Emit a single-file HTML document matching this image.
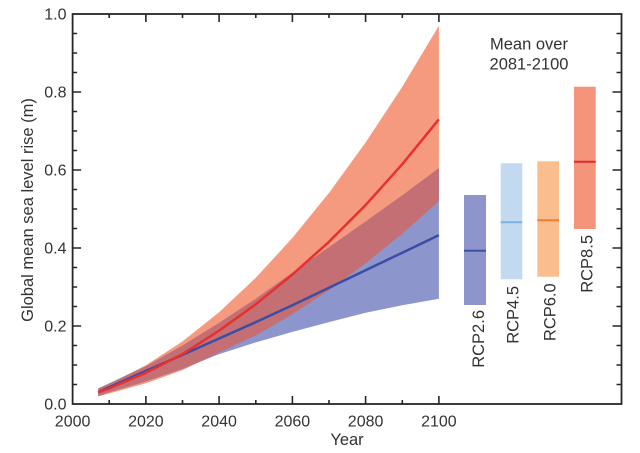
<!DOCTYPE html>
<html>
<head>
<meta charset="utf-8">
<style>
  html,body{margin:0;padding:0;background:#fff;}
  svg{display:block;}
  text{font-family:"Liberation Sans", Arial, sans-serif; fill:#333;}
</style>
</head>
<body>
<svg width="640" height="453" viewBox="0 0 640 453" xmlns="http://www.w3.org/2000/svg">
  <defs>
    <clipPath id="c8">
      <polygon points="98.2,388.4 109.2,383.9 145.9,365.3 182.5,341.4 219.1,312.3 255.8,277.8 292.4,237.9 329.0,192.9 365.6,142.5 402.3,86.7 438.9,25.7 438.9,201.2 402.3,233.6 365.6,263.2 329.0,290.1 292.4,314.3 255.8,335.4 219.1,352.5 182.5,370.1 145.9,383.3 109.2,393.5 98.2,396.2"/>
    </clipPath>
  </defs>

  <!-- RCP8.5 band -->
  <polygon fill="#f59a7e" points="98.2,388.4 109.2,383.9 145.9,365.3 182.5,341.4 219.1,312.3 255.8,277.8 292.4,237.9 329.0,192.9 365.6,142.5 402.3,86.7 438.9,25.7 438.9,201.2 402.3,233.6 365.6,263.2 329.0,290.1 292.4,314.3 255.8,335.4 219.1,352.5 182.5,370.1 145.9,383.3 109.2,393.5 98.2,396.2"/>
  <!-- RCP2.6 band -->
  <polygon fill="#8d95cd" points="98.2,388.4 109.2,383.3 145.9,366.2 182.5,345.5 219.1,322.9 255.8,298.7 292.4,272.6 329.0,247.2 365.6,221.5 402.3,195.4 438.9,168.1 438.9,298.7 402.3,305.3 365.6,312.7 329.0,322.1 292.4,331.9 255.8,342.4 219.1,354.1 182.5,368.9 145.9,381.4 109.2,392.3 98.2,396.2"/>
  <!-- overlap -->
  <polygon fill="#c46f74" clip-path="url(#c8)" points="98.2,388.4 109.2,383.3 145.9,366.2 182.5,345.5 219.1,322.9 255.8,298.7 292.4,272.6 329.0,247.2 365.6,221.5 402.3,195.4 438.9,168.1 438.9,298.7 402.3,305.3 365.6,312.7 329.0,322.1 292.4,331.9 255.8,342.4 219.1,354.1 182.5,368.9 145.9,381.4 109.2,392.3 98.2,396.2"/>

  <!-- mean lines -->
  <polyline fill="none" stroke="#3a4ea6" stroke-width="2.5" stroke-linejoin="round" points="98.2,392.3 109.2,387.2 145.9,370.9 182.5,354.9 219.1,338.5 255.8,322.1 292.4,305.3 329.0,287.8 365.6,270.2 402.3,252.7 438.9,235.1"/>
  <polyline fill="none" stroke="#e8302e" stroke-width="2.5" stroke-linejoin="round" points="98.2,392.3 109.2,388.4 145.9,372.8 182.5,354.1 219.1,330.7 255.8,304.2 292.4,274.5 329.0,241.8 365.6,205.1 402.3,164.2 438.9,119.3"/>

  <!-- bars -->
  <rect x="464" y="195" width="22" height="110" fill="#8e95cc"/>
  <line x1="464" y1="250.7" x2="486" y2="250.7" stroke="#3d52a4" stroke-width="2"/>
  <rect x="500.7" y="163.3" width="21.6" height="116" fill="#c3d9f0"/>
  <line x1="500.7" y1="222.3" x2="522.3" y2="222.3" stroke="#7db3e3" stroke-width="2"/>
  <rect x="537.3" y="161.3" width="21.7" height="115.4" fill="#f9bd8e"/>
  <line x1="537.3" y1="220.3" x2="559" y2="220.3" stroke="#f07c2e" stroke-width="2"/>
  <rect x="574" y="86.7" width="21.7" height="142.3" fill="#f4957b"/>
  <line x1="574" y1="161.7" x2="595.7" y2="161.7" stroke="#e8282c" stroke-width="2"/>

  <!-- bar labels -->
  <text font-size="16.5" text-anchor="end" transform="translate(484,310) rotate(-90)">RCP2.6</text>
  <text font-size="16.5" text-anchor="end" transform="translate(518.3,286) rotate(-90)">RCP4.5</text>
  <text font-size="16.5" text-anchor="end" transform="translate(555.7,283.3) rotate(-90)">RCP6.0</text>
  <text font-size="16.5" text-anchor="end" transform="translate(592.3,235) rotate(-90)">RCP8.5</text>

  <text font-size="16.5" x="529" y="49.3" text-anchor="middle">Mean over</text>
  <text font-size="16.5" x="529" y="69.3" text-anchor="middle">2081-2100</text>

  <!-- frame -->
  <rect x="72.6" y="14" width="548.9" height="390" fill="none" stroke="#262626" stroke-width="1.8"/>

  <!-- ticks -->
  <path fill="none" stroke="#262626" stroke-width="1.6" d="
    M72.6 326h8.5 M72.6 248h8.5 M72.6 170h8.5 M72.6 92h8.5
    M72.6 384.5h4.5 M72.6 365h4.5 M72.6 345.5h4.5 M72.6 306.5h4.5 M72.6 287h4.5 M72.6 267.5h4.5
    M72.6 228.5h4.5 M72.6 209h4.5 M72.6 189.5h4.5 M72.6 150.5h4.5 M72.6 131h4.5 M72.6 111.5h4.5
    M72.6 72.5h4.5 M72.6 53h4.5 M72.6 33.5h4.5
    M621.5 326h-9 M621.5 248h-9 M621.5 170h-9 M621.5 92h-9
    M621.5 384.5h-5 M621.5 365h-5 M621.5 345.5h-5 M621.5 306.5h-5 M621.5 287h-5 M621.5 267.5h-5
    M621.5 228.5h-5 M621.5 209h-5 M621.5 189.5h-5 M621.5 150.5h-5 M621.5 131h-5 M621.5 111.5h-5
    M621.5 72.5h-5 M621.5 53h-5 M621.5 33.5h-5
    M145.9 404v-8 M219.1 404v-8 M292.4 404v-8 M365.6 404v-8 M438.9 404v-8
    M109.2 404v-4 M182.5 404v-4 M255.8 404v-4 M329.0 404v-4 M402.3 404v-4
    M145.9 14v8 M219.1 14v8 M292.4 14v8 M365.6 14v8 M438.9 14v8
    M109.2 14v4 M182.5 14v4 M255.8 14v4 M329.0 14v4 M402.3 14v4
  "/>

  <!-- y tick labels -->
  <g font-size="16" text-anchor="end">
    <text x="66.5" y="409.7">0.0</text>
    <text x="66.5" y="331.7">0.2</text>
    <text x="66.5" y="253.7">0.4</text>
    <text x="66.5" y="175.7">0.6</text>
    <text x="66.5" y="97.7">0.8</text>
    <text x="66.5" y="19.7">1.0</text>
  </g>
  <!-- x tick labels -->
  <g font-size="16" text-anchor="middle">
    <text x="72.6" y="426.7">2000</text>
    <text x="145.9" y="426.7">2020</text>
    <text x="219.1" y="426.7">2040</text>
    <text x="292.4" y="426.7">2060</text>
    <text x="365.6" y="426.7">2080</text>
    <text x="438.9" y="426.7">2100</text>
  </g>
  <text font-size="16.5" x="347" y="445" text-anchor="middle">Year</text>
  <text font-size="16.5" text-anchor="middle" transform="translate(33,210) rotate(-90)">Global mean sea level rise (m)</text>
</svg>
</body>
</html>
